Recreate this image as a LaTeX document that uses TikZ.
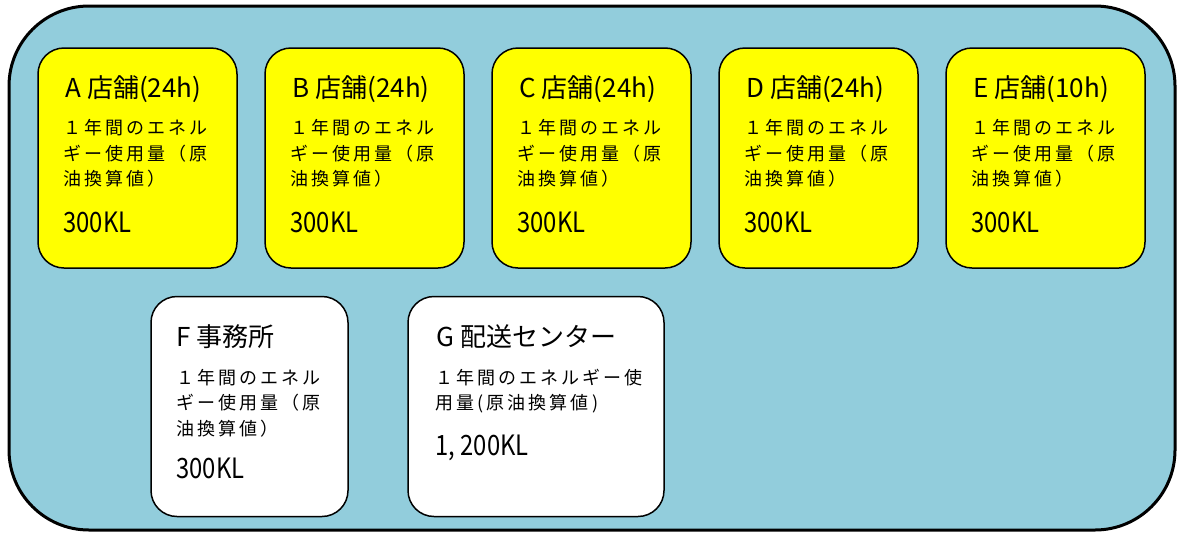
\documentclass[tikz,border=0pt]{standalone}
\usepackage{fontspec}
\setmainfont{Noto Sans CJK JP}
\newfontfamily\bodyfont[LetterSpace=17]{Noto Sans CJK JP}
\usetikzlibrary{positioning}
\definecolor{poolblue}{HTML}{92CDDC}
\definecolor{shopyellow}{HTML}{FFFF00}
\tikzset{
	box/.style={draw, line width=1.5pt, rounded corners=26pt, minimum height=220pt, inner sep=0pt},
	shop/.style={box, fill=shopyellow, minimum width=199pt},
	site/.style={box, fill=white},
	ttl/.style={inner sep=0pt, anchor=base west, font=\fontsize{26}{30}\selectfont},
	body/.style={inner sep=0pt, anchor=north west, align=left, font=\bodyfont\fontsize{18}{25.5}\selectfont},
	val/.style={inner sep=0pt, anchor=base west, font=\fontsize{28}{30}\selectfont},
}
\begin{document}
\begin{tikzpicture}[x=1pt, y=1pt, line join=round]
	\useasboundingbox (0,0) rectangle (1182,-536);
	\draw[line width=3pt, fill=poolblue, rounded corners=80pt] (9,-6) rectangle (1175,-530);
	% shops
	\foreach \n/\h [count=\i from 0] in {A/24h,B/24h,C/24h,D/24h,E/10h}{
		\node[shop] (\n) at (137.5+227*\i,-158) {};
		\node[ttl] (\n t) at ([shift={(28,-50)}]\n.north west) {\n\ 店舗(\h)};
		\node[body] (\n b) at ([shift={(26,-72)}]\n.north west) {１年間のエネル\\ギー使用量（原\\油換算値）};
		\node[val] (\n v) at ([shift={(26,-185)}]\n.north west) {\scalebox{.85}[1]{300KL}};
	}
	% office and center
	\node[site, minimum width=197pt] (F) at (249.5,-406.5) {};
	\node[ttl] (Ft) at ([shift={(26,-51)}]F.north west) {F 事務所};
	\node[body] (Fb) at ([shift={(26,-73)}]F.north west) {１年間のエネル\\ギー使用量（原\\油換算値）};
	\node[val] (Fv) at ([shift={(26,-183)}]F.north west) {\scalebox{.85}[1]{300KL}};
	\node[site, minimum width=256pt] (G) at (536,-406.5) {};
	\node[ttl] (Gt) at ([shift={(29,-51)}]G.north west) {G 配送センター};
	\node[body] (Gb) at ([shift={(28,-73)}]G.north west) {１年間のエネルギー使\\用量(原油換算値)};
	\node[val] (Gv) at ([shift={(28,-160)}]G.north west) {\scalebox{.85}[1]{1, 200KL}};
\end{tikzpicture}
\end{document}
